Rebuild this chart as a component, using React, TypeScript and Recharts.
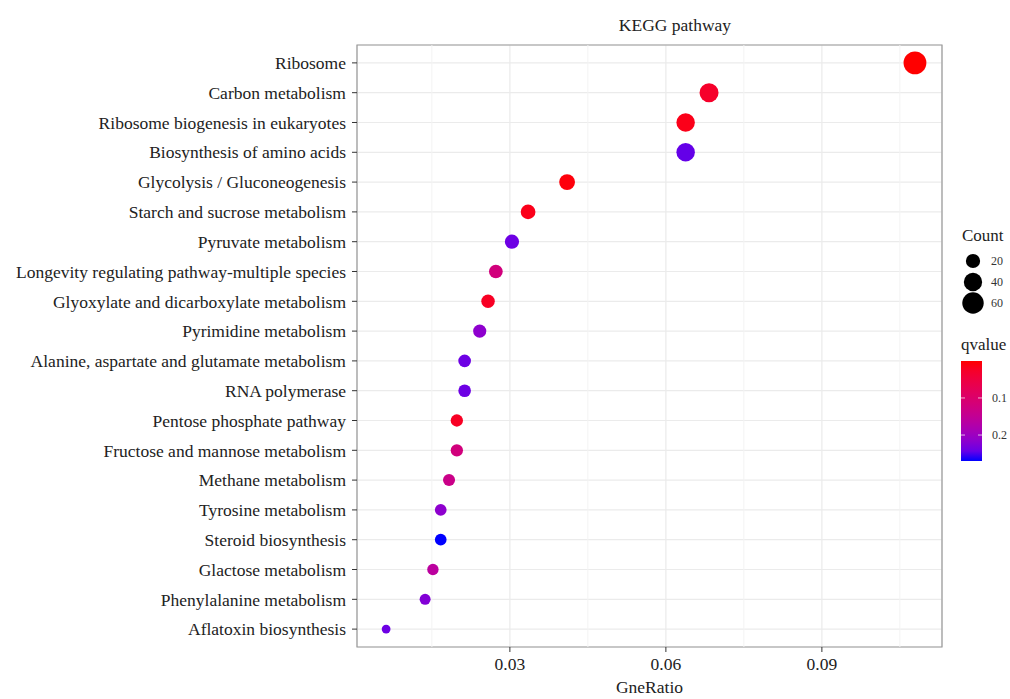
import { ScatterChart, Scatter, XAxis, YAxis, CartesianGrid, ReferenceLine, ReferenceArea } from 'recharts';

const pathways = [
  'Ribosome',
  'Carbon metabolism',
  'Ribosome biogenesis in eukaryotes',
  'Biosynthesis of amino acids',
  'Glycolysis / Gluconeogenesis',
  'Starch and sucrose metabolism',
  'Pyruvate metabolism',
  'Longevity regulating pathway-multiple species',
  'Glyoxylate and dicarboxylate metabolism',
  'Pyrimidine metabolism',
  'Alanine, aspartate and glutamate metabolism',
  'RNA polymerase',
  'Pentose phosphate pathway',
  'Fructose and mannose metabolism',
  'Methane metabolism',
  'Tyrosine metabolism',
  'Steroid biosynthesis',
  'Glactose metabolism',
  'Phenylalanine metabolism',
  'Aflatoxin biosynthesis',
];
const geneRatio = [
  0.1079, 0.0683, 0.0638, 0.0638, 0.041, 0.0335, 0.0304, 0.0273, 0.0258, 0.0242,
  0.0213, 0.0213, 0.0198, 0.0198, 0.0183, 0.0167, 0.0167, 0.0152, 0.0137, 0.0062,
];
const counts = [70, 44, 41, 41, 27, 22, 20, 18, 17, 16, 14, 14, 13, 13, 12, 11, 11, 10, 9, 4];
const qvalues = [
  0.0003, 0.027, 0.013, 0.245, 0.005, 0.014, 0.24, 0.12, 0.022, 0.215,
  0.24, 0.24, 0.022, 0.12, 0.135, 0.215, 0.27, 0.16, 0.225, 0.24,
];
const xTicks = [0.03, 0.06, 0.09];
const xMinor = [0.015, 0.045, 0.075, 0.105];
const countLegend = [20, 40, 60];
const qLegendTicks = [0.1, 0.2];

const data = pathways.map((name, i) => ({ name, y: i, x: geneRatio[i], count: counts[i], q: qvalues[i] }));
const yIdx = pathways.map((_, i) => i);
const qMin = Math.min(...qvalues);
const qMax = Math.max(...qvalues);

// ggplot-like red -> blue gradient, interpolated in Lab
const toLin = (c: number) => (c <= 0.04045 ? c / 12.92 : Math.pow((c + 0.055) / 1.055, 2.4));
const toGam = (c: number) => (c <= 0.0031308 ? 12.92 * c : 1.055 * Math.pow(c, 1 / 2.4) - 0.055);
function rgbToLab(rgb: number[]) {
  const [R, G, B] = rgb.map((c) => toLin(c / 255));
  const X = (0.4124 * R + 0.3576 * G + 0.1805 * B) / 0.95047;
  const Y = 0.2126 * R + 0.7152 * G + 0.0722 * B;
  const Z = (0.0193 * R + 0.1192 * G + 0.9505 * B) / 1.08883;
  const f = (t: number) => (t > 0.008856 ? Math.cbrt(t) : 7.787 * t + 16 / 116);
  const fx = f(X), fy = f(Y), fz = f(Z);
  return [116 * fy - 16, 500 * (fx - fy), 200 * (fy - fz)];
}
function labToHex(lab: number[]) {
  const [L, a, b] = lab;
  const fy = (L + 16) / 116, fx = fy + a / 500, fz = fy - b / 200;
  const inv = (t: number) => (t ** 3 > 0.008856 ? t ** 3 : (t - 16 / 116) / 7.787);
  const X = inv(fx) * 0.95047, Y = inv(fy), Z = inv(fz) * 1.08883;
  const lin = [
    3.2406 * X - 1.5372 * Y - 0.4986 * Z,
    -0.9689 * X + 1.8758 * Y + 0.0415 * Z,
    0.0557 * X - 0.204 * Y + 1.057 * Z,
  ];
  return '#' + lin.map((c) => Math.round(Math.max(0, Math.min(1, toGam(Math.max(0, c)))) * 255).toString(16).padStart(2, '0')).join('');
}
const lowLab = rgbToLab([255, 0, 0]);
const highLab = rgbToLab([0, 0, 255]);
const colorAt = (t: number) => labToHex(lowLab.map((v, k) => v + (highLab[k] - v) * t));
const qColor = (q: number) => colorAt((q - qMin) / (qMax - qMin));
const radius = (c: number) => 1.1 * Math.sqrt(c) + 2.2;

const Dot = (props: any) => {
  const { cx, cy, payload } = props;
  return <circle cx={cx} cy={cy} r={radius(payload.count)} fill={qColor(payload.q)} />;
};

const font = '"Liberation Serif", "Times New Roman", serif';
const barTop = 361;
const barH = 100;

export default function App() {
  return (
    <div style={{ position: 'relative', width: 1010, height: 699, fontFamily: font, background: '#fff' }}>
      <style>{'body{margin:0}'}</style>
      <ScatterChart width={1010} height={699} margin={{ top: 45, right: 68, bottom: 0, left: 0 }}>
        <CartesianGrid stroke="#ebebeb" strokeWidth={1.2} />
        {xMinor.map((v) => (
          <ReferenceLine key={v} x={v} stroke="#f3f3f3" strokeWidth={1} />
        ))}
        <XAxis
          type="number"
          dataKey="x"
          domain={[0.0006, 0.1131]}
          allowDataOverflow
          ticks={xTicks}
          tickFormatter={(v: number) => v.toFixed(2)}
          height={52}
          axisLine={false}
          tickLine={{ stroke: '#333' }}
          tickSize={5}
          tickMargin={6}
          tick={{ fill: '#222', fontSize: 17.5, fontFamily: font }}
          label={{ value: 'GneRatio', position: 'insideBottom', offset: 6, fill: '#222', fontSize: 17.5, fontFamily: font }}
        />
        <YAxis
          type="number"
          dataKey="y"
          domain={[-0.6, 19.6]}
          reversed
          allowDataOverflow
          ticks={yIdx}
          interval={0}
          tickFormatter={(i: number) => pathways[i]}
          width={357}
          axisLine={false}
          tickLine={{ stroke: '#333' }}
          tickSize={5}
          tickMargin={6}
          tick={{ fill: '#222', fontSize: 17.5, fontFamily: font }}
        />
        <ReferenceArea x1={0.0006} x2={0.1131} y1={-0.6} y2={19.6} fill="none" stroke="#999" strokeWidth={1.2} />
        <Scatter data={data} shape={Dot} isAnimationActive={false} />
      </ScatterChart>
      <svg width={1010} height={699} style={{ position: 'absolute', left: 0, top: 0, pointerEvents: 'none' }}>
        <defs>
          <linearGradient id="qgrad" x1="0" y1="0" x2="0" y2="1">
            {[0, 0.1, 0.2, 0.3, 0.4, 0.5, 0.6, 0.7, 0.8, 0.9, 1].map((t) => (
              <stop key={t} offset={t} stopColor={colorAt(t)} />
            ))}
          </linearGradient>
        </defs>
        <text x={675} y={31} textAnchor="middle" fontSize={17.5} fill="#222">KEGG pathway</text>
        <text x={962} y={241} fontSize={17} fill="#222">Count</text>
        {countLegend.map((c, i) => (
          <g key={c}>
            <circle cx={973} cy={261 + i * 21} r={radius(c)} fill="#000" />
            <text x={991} y={265 + i * 21} fontSize={12} fill="#333">{c}</text>
          </g>
        ))}
        <text x={961} y={350} fontSize={17} fill="#222">qvalue</text>
        <rect x={961} y={barTop} width={21} height={barH} fill="url(#qgrad)" />
        {qLegendTicks.map((q) => {
          const y = barTop + ((q - qMin) / (qMax - qMin)) * barH;
          return (
            <g key={q}>
              <line x1={961} x2={965} y1={y} y2={y} stroke="#fff" strokeOpacity={0.7} />
              <line x1={978} x2={982} y1={y} y2={y} stroke="#fff" strokeOpacity={0.7} />
              <text x={992} y={y + 4} fontSize={12} fill="#333">{q}</text>
            </g>
          );
        })}
      </svg>
    </div>
  );
}
